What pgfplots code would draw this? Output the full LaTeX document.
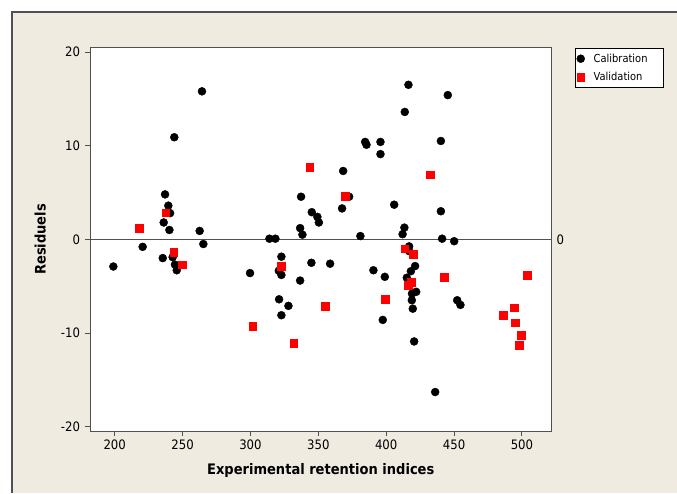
\documentclass[border=0pt]{standalone}
\usepackage{fontspec}
\setmainfont{DejaVu Sans Condensed}
\usepackage{pgfplots}
\pgfplotsset{compat=1.18}
\definecolor{panelbg}{HTML}{EFEBE0}
\definecolor{framegray}{HTML}{505050}

\pgfplotstableread{
x y
199.0 -2.9
220.6 -0.8
235.4 -2.0
236.1 1.8
237.1 4.8
239.5 3.6
240.8 2.8
240.3 1.0
242.7 -1.9
243.9 10.9
244.4 -2.7
245.7 -3.3
262.6 0.9
264.3 15.8
265.3 -0.5
299.7 -3.6
314.0 0.07
318.4 0.07
320.9 -3.35
321.1 -6.4
322.8 -1.85
322.8 -3.8
322.8 -8.1
328.0 -7.1
336.6 1.2
336.6 -4.4
337.3 4.55
338.3 0.5
344.9 -2.5
345.2 2.9
349.3 2.4
350.4 1.8
358.7 -2.6
367.5 3.3
368.3 7.3
372.7 4.55
381.0 0.35
384.5 10.4
385.5 10.1
390.6 -3.3
395.8 10.4
395.8 9.1
397.5 -8.6
399.0 -4.0
405.9 3.7
412.1 0.55
413.4 1.25
413.7 13.6
415.2 -4.1
416.4 16.5
416.9 -0.75
416.9 -1.25
418.2 -3.4
418.9 -6.5
419.6 -7.4
419.0 -5.8
420.6 -10.9
421.3 -2.85
422.1 -5.6
436.1 -16.3
440.3 10.5
440.3 3.0
441.2 0.07
445.4 15.4
450.1 -0.2
452.3 -6.5
454.7 -7.0
}\calib

\pgfplotstableread{
x y
217.9 1.2
237.6 2.85
243.5 -1.4
249.6 -2.7
301.7 -9.25
322.4 -2.9
331.9 -11.1
343.7 7.7
355.0 -7.1
369.7 4.6
399.5 -6.4
413.6 -1.0
420.2 -1.6
416.4 -4.9
418.4 -4.6
432.4 6.9
442.7 -4.0
486.4 -8.1
494.1 -7.3
494.8 -8.9
497.8 -11.3
499.5 -10.2
503.7 -3.8
}\valid

\begin{document}
\begin{tikzpicture}
\path[use as bounding box] (0pt,0pt) rectangle (677pt,493pt);
\fill[panelbg] (12pt,0pt) rectangle (677pt,481pt);
\draw[framegray, line width=1.2pt] (12pt,0pt) -- (12pt,481pt) -- (677pt,481pt);
\begin{axis}[
  at={(90pt,62pt)}, anchor=south west,
  scale only axis, width=461.5pt, height=383.3pt,
  xmin=181.8, xmax=521.8, ymin=-20.46, ymax=20.46,
  xtick={200,250,...,500}, ytick={-20,-10,0,10,20},
  tick align=outside, major tick length=5pt,
  xtick pos=bottom, ytick pos=left,
  axis line style={framegray, line width=1pt},
  tick style={framegray, line width=1pt},
  axis background/.style={fill=white},
  /pgf/number format/assume math mode=true,
  tick label style={font=\fontsize{13}{15}\selectfont},
  yticklabel style={xshift=-1.5pt},
  xlabel={Experimental retention indices},
  ylabel={Residuels},
  label style={font=\bfseries\fontsize{14.5}{16}\selectfont},
  xlabel style={at={(axis description cs:0.5,-0.102)}, anchor=center},
  ylabel style={at={(axis description cs:-0.108,0.5)}, anchor=center},
  legend style={at={(axis description cs:1.0499,0.999)}, anchor=north west,
    draw=black, fill=white, font=\fontsize{11}{13}\selectfont,
    inner xsep=2pt, inner ysep=3.5pt, row sep=4.5pt},
  legend cell align=left,
  clip=false,
]
\addplot[framegray, line width=1pt, forget plot] coordinates {(181.8,0) (521.8,0)};
\addplot[only marks, mark=*, mark size=4pt, black] table {\calib};
\addlegendentry{\hspace*{7pt}Calibration\hspace*{12pt}}
\addplot[only marks, mark=square*, mark size=3.9pt, red, mark options={draw=red, fill=red}] table {\valid};
\addlegendentry{\hspace*{7pt}Validation}
\node[anchor=west, inner sep=0pt, font=\fontsize{13}{15}\selectfont] at (axis cs:521.8,0) [xshift=5pt] {0};
\end{axis}
\end{tikzpicture}
\end{document}
